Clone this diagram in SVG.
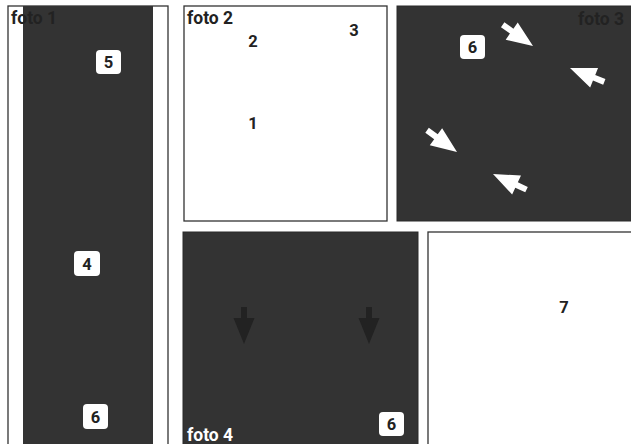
<svg xmlns="http://www.w3.org/2000/svg" width="631" height="444" viewBox="0 0 631 444">
<style>
.frame{fill:#fff;stroke:#333;stroke-width:1.3}
.dark{fill:#333;stroke:#2a2a2a;stroke-width:1}
.lbl{font-family:Roboto,"Liberation Sans",sans-serif;font-weight:700;font-size:17.5px;fill:#222}
.num{font-family:Roboto,"Liberation Sans",sans-serif;font-weight:700;font-size:16.5px;fill:#222;text-anchor:middle}
.badge{fill:#fff}
.wl{fill:#fff}
.da{fill:#222}
</style>
<defs>
<polygon id="arr" points="0,0 -26,-10.5 -26,-3 -37,-3 -37,3 -26,3 -26,10.5"/>
</defs>
<rect width="631" height="444" fill="#fff"/>

<g id="foto1">
<rect class="frame" x="8" y="6" width="160" height="450"/>
<rect x="23" y="6" width="130" height="450" fill="#333"/>
<text class="lbl" x="11" y="24">foto 1</text>
<rect class="badge" x="96" y="50" width="25" height="24" rx="4"/>
<text class="num" x="108.5" y="68">5</text>
<rect class="badge" x="74" y="251" width="26" height="25" rx="4"/>
<text class="num" x="87" y="269.5">4</text>
<rect class="badge" x="83" y="404" width="25" height="25" rx="4"/>
<text class="num" x="95.5" y="422.5">6</text>
</g>

<g id="foto2">
<rect class="frame" x="184" y="6" width="203" height="215"/>
<text class="lbl" x="187" y="24">foto 2</text>
<text class="num" x="253" y="47">2</text>
<text class="num" x="354" y="36">3</text>
<text class="num" x="253" y="129">1</text>
</g>

<g id="foto3">
<rect class="dark" x="397" y="6" width="240" height="215"/>
<text class="lbl" x="578" y="25">foto 3</text>
<rect class="badge" x="460" y="35" width="25" height="24" rx="4"/>
<text class="num" x="472.5" y="53">6</text>
</g>

<g id="foto4">
<rect class="dark" x="183" y="232" width="235" height="220"/>
<text class="lbl" x="187" y="441" style="fill:#fff">foto 4</text>
<rect class="badge" x="379" y="412" width="25" height="24" rx="4"/>
<text class="num" x="391.5" y="430">6</text>
</g>

<g id="foto7">
<rect class="frame" x="428" y="232" width="210" height="220"/>
<text class="num" x="564" y="313">7</text>
</g>

<g id="arrows">
<use href="#arr" class="wl" transform="translate(533,46) rotate(35)"/>
<use href="#arr" class="wl" transform="translate(570,68) rotate(202)"/>
<use href="#arr" class="wl" transform="translate(457,152) rotate(36)"/>
<use href="#arr" class="wl" transform="translate(493,174) rotate(205)"/>
<use href="#arr" class="da" transform="translate(244,344) rotate(90)"/>
<use href="#arr" class="da" transform="translate(369,344) rotate(90)"/>
</g>
</svg>
